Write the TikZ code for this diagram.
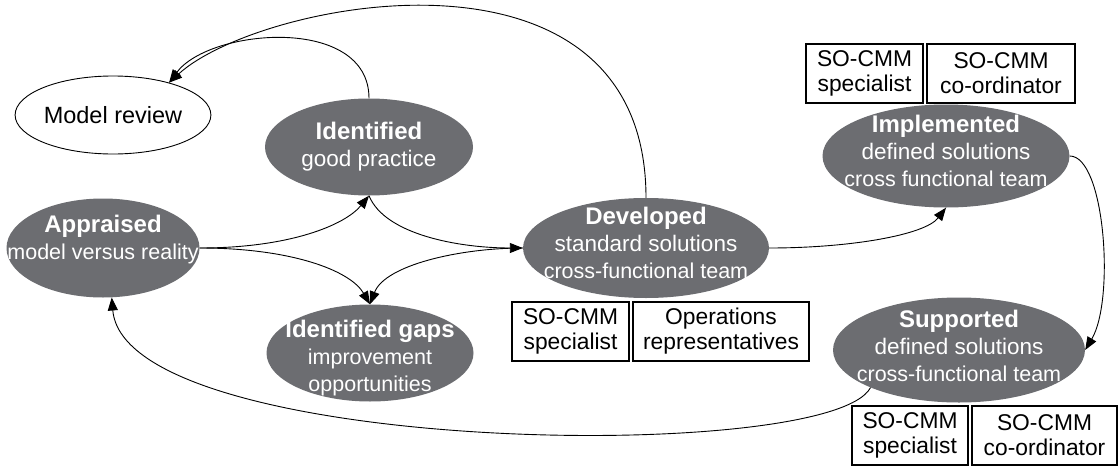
\documentclass[tikz,border=0pt]{standalone}
\usepackage{fontspec}
\setmainfont{Liberation Sans}
\usetikzlibrary{shapes.geometric,arrows.meta}
\definecolor{stagegrey}{RGB}{108,109,113}
\newcommand\stagetitle[1]{{\fontsize{24}{27}\selectfont\bfseries #1}}
\newcommand\stagesmall[1]{{\fontsize{21.5}{26}\selectfont #1}}
\begin{document}
\begin{tikzpicture}[x=1pt,y=-1pt,
  stage/.style={ellipse, fill=stagegrey, inner sep=0pt},
  stagetext/.style={text=white, align=center, inner sep=0pt, font=\fontsize{22.5}{27}\selectfont},
  rolebox/.style={draw=black, line width=1.1pt, fill=white, inner sep=0pt, align=center,
    font=\fontsize{22.8}{25}\selectfont, minimum height=59pt},
  conn/.style={line width=0.9pt, -{Triangle[length=13pt,width=10pt]}}
]
\useasboundingbox (0,0) rectangle (1120,466);

% ellipses
\node[ellipse, draw=black, line width=0.9pt, fill=white, inner sep=0pt,
      minimum width=182pt, minimum height=78pt, font=\fontsize{23.5}{27}\selectfont] (mr) at (113,115) {Model review};

\node[stage, minimum width=208pt, minimum height=97pt] (gp) at (369,147) {};
\node[stagetext] (gpt) at (369,147) {\stagetitle{Identified}\\good practice};

\node[stage, minimum width=193pt, minimum height=99pt] (ap) at (103,248) {};
\node[stagetext] (apt) at (103,240) {\stagetitle{Appraised}\\\stagesmall{model versus reality}};

\node[stage, minimum width=207pt, minimum height=97pt] (gaps) at (370,353) {};
\node[stagetext] (gapst) at (370,358) {\stagetitle{Identified gaps}\\\stagesmall{improvement}\\\stagesmall{opportunities}};

\node[stage, minimum width=246pt, minimum height=100pt] (dev) at (646,248) {};
\node[stagetext] (devt) at (646,243) {\stagetitle{Developed}\\standard solutions\\\stagesmall{cross-functional team}};

\node[stage, minimum width=247pt, minimum height=103pt] (impl) at (946,156) {};
\node[stagetext] (implt) at (946,151) {\stagetitle{Implemented}\\defined solutions\\\stagesmall{cross functional team}};

\node[stage, minimum width=252pt, minimum height=105pt] (sup) at (959,350) {};
\node[stagetext] (supt) at (959,346) {\stagetitle{Supported}\\defined solutions\\\stagesmall{cross-functional team}};

% role boxes
\node[rolebox, minimum width=117pt] (ib1) at (864.5,73.5) {SO-CMM\\specialist};
\node[rolebox, minimum width=148pt] (ib2) at (1001,73.5) {SO-CMM\\co-ordinator};
\node[rolebox, minimum width=117pt] (db1) at (570.5,331.5) {SO-CMM\\specialist};
\node[rolebox, minimum width=176pt] (db2) at (721,331.5) {Operations\\representatives};
\node[rolebox, minimum width=116pt] (sb1) at (910,435.5) {SO-CMM\\specialist};
\node[rolebox, minimum width=145pt] (sb2) at (1044.5,435.5) {SO-CMM\\co-ordinator};

% connectors
\draw[conn] (gp.north) .. controls (369,15) and (210,28) .. (mr.30);
\draw[conn] (dev.north) .. controls (646,-75) and (260,0) .. (mr.30);
\draw[conn] (ap.east) .. controls (290,248) and (345,225) .. (gp.south);
\draw[conn] (gp.south) .. controls (385,235) and (460,248) .. (dev.west);
\draw[conn] (ap.east) .. controls (290,248) and (350,270) .. (gaps.north);
\draw[conn] (dev.west) .. controls (460,248) and (385,265) .. (gaps.north);
\draw[conn] (dev.east) .. controls (850,248) and (925,235) .. (impl.south);
\draw[conn] (impl.east) .. controls (1105,156) and (1115,300) .. (sup.east);
\draw[conn] (sup.203) .. controls (830,465) and (125,455) .. (ap.280);
\end{tikzpicture}
\end{document}
